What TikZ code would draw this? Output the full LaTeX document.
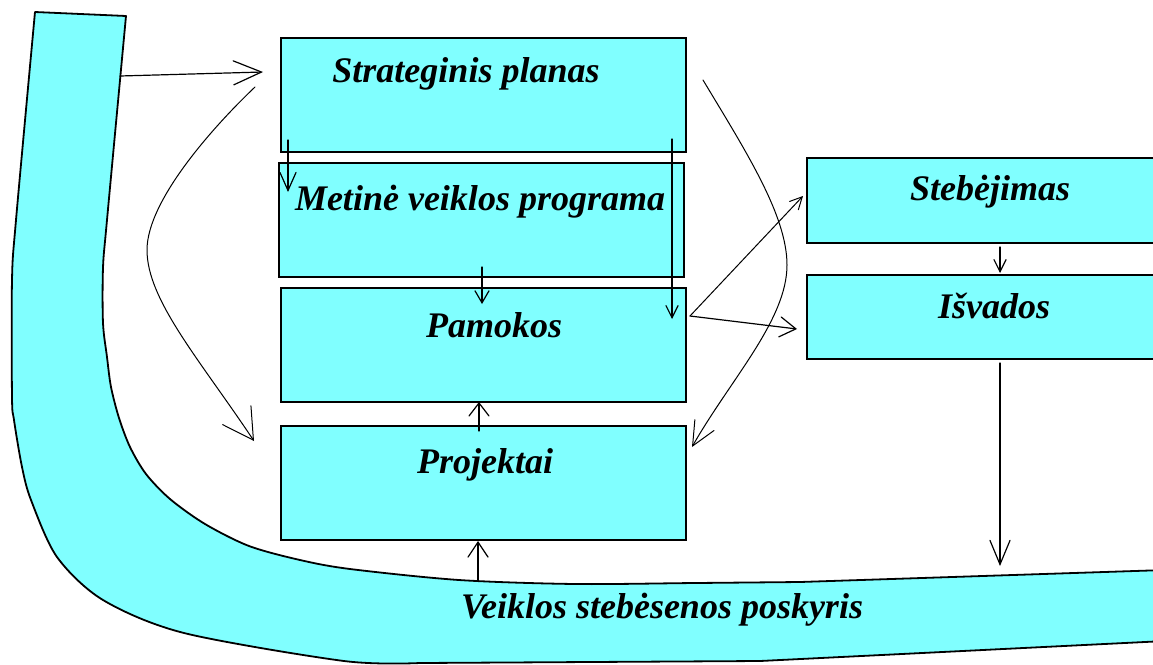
\documentclass[tikz,border=0pt]{standalone}
\usepackage{fontspec}
\setmainfont{Liberation Serif}
\usetikzlibrary{arrows.meta}
\definecolor{cy}{HTML}{80FFFF}
\begin{document}
\begin{tikzpicture}[x=1pt,y=-1pt,
  box/.style={draw=black,fill=cy,line width=1.8pt,inner sep=0pt,anchor=north west,rectangle},
  lbl/.style={anchor=base,inner sep=0pt,font=\fontsize{36}{40}\selectfont\bfseries\itshape},
  con/.style={draw=black,line width=1.2pt,line cap=round},
  thin con/.style={draw=black,line width=1pt,line cap=round},
  barb/.style 2 args={-{Straight Barb[length=#1pt,width=#2pt,line cap=round]}}]
\useasboundingbox (0,0) rectangle (1153,664);
\clip (0,0) rectangle (1153,664);
\fill[white] (0,0) rectangle (1153,664);
% band
\draw[line width=1.8pt, fill=cy, line join=round] (35,12) -- (126,16)
  -- plot[smooth] coordinates {(126,16) (107,220) (103,268) (103,323) (107,357) (111,387) (119,418) (130,447) (146,474) (170,499) (205,524) (249,546) (300,560) (350,569) (459,580) (575,584) (695,583) (800,582)}
  -- (1165,570) -- (1165,641) -- (760,661) -- (420,663)
  -- plot[smooth] coordinates {(420,663) (344,661) (184,633) (103,600) (57,557) (31,500) (22,467) (14,420) (12,397) (12,280) (16,220) (35,12)} -- cycle;
\node[lbl] (bandlbl) at (662,618) {Veiklos stebėsenos poskyris};
% boxes
\node[box,minimum width=405pt,minimum height=114pt] (sp) at (280,37) {};
\node[box,minimum width=405pt,minimum height=114pt] (mv) at (278,162) {};
\node[box,minimum width=405pt,minimum height=114pt] (pa) at (280,287) {};
\node[box,minimum width=405pt,minimum height=114pt] (pr) at (280,425) {};
\node[box,minimum width=400pt,minimum height=85pt] (st) at (806,157) {};
\node[box,minimum width=400pt,minimum height=84pt] (is) at (806,274) {};
% labels
\node[lbl] (tsp) at (466,82) {Strateginis planas};
\node[lbl] (tmv) at (480,210) {Metinė veiklos programa};
\node[lbl] (tpa) at (494,337) {Pamokos};
\node[lbl] (tpr) at (485,473) {Projektai};
\node[lbl] (tst) at (990,200) {Stebėjimas};
\node[lbl] (tis) at (994,318) {Išvados};
% coordinates
\coordinate (a1s) at (120,76);
\coordinate (a1e) at (263,72);
\coordinate (c1s) at (255,87);
\coordinate (c1m) at (147,250);
\coordinate (c1e) at (254,441);
\coordinate (a3s) at (288,140);
\coordinate (a3e) at (288,192);
\coordinate (a4s) at (672,139);
\coordinate (a4e) at (672,319);
\coordinate (a5s) at (482,267);
\coordinate (a5e) at (482,304);
\coordinate (a6s) at (479,431);
\coordinate (a6e) at (479,402);
\coordinate (a7s) at (478,581);
\coordinate (a7e) at (478,541);
\coordinate (a8s) at (690,316);
\coordinate (a8e) at (803,196);
\coordinate (a9e) at (797,329);
\coordinate (c2s) at (703,80);
\coordinate (c2m) at (787,265);
\coordinate (c2e) at (692,447);
\coordinate (a11s) at (1000,247);
\coordinate (a11e) at (1000,273);
\coordinate (a12s) at (1000,363);
\coordinate (a12e) at (1000,566);
% connectors
\draw[con,barb={28}{24}] (a1s) -- (a1e);
\draw[thin con,barb={30}{34}] (c1s) .. controls (215,125) and (147,200) .. (c1m)
   .. controls (147,300) and (200,360) .. (c1e);
\draw[con,barb={18}{16}] (a3s) -- (a3e);
\draw[con,barb={12}{12}] (a4s) -- (a4e);
\draw[con,barb={12}{14}] (a5s) -- (a5e);
\draw[con,barb={13}{20}] (a6s) -- (a6e);
\draw[con,barb={15}{20}] (a7s) -- (a7e);
\draw[thin con,barb={12}{12}] (a8s) -- (a8e);
\draw[con,barb={16}{20}] (a8s) -- (a9e);
\draw[thin con,barb={24}{22}] (c2s) .. controls (745,150) and (787,215) .. (c2m)
   .. controls (787,320) and (730,380) .. (c2e);
\draw[con,barb={12}{12}] (a11s) -- (a11e);
\draw[con,barb={24}{20}] (a12s) -- (a12e);
\end{tikzpicture}
\end{document}
